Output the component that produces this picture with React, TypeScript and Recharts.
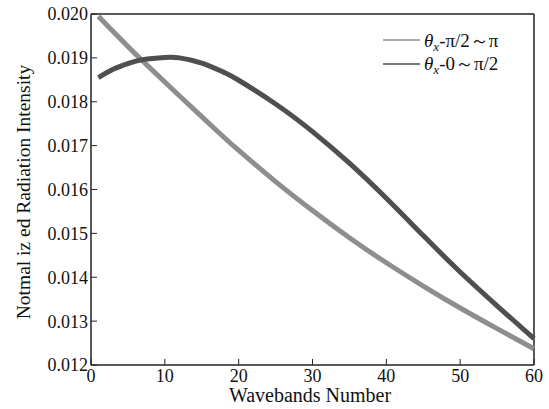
import { CartesianGrid, Line, LineChart, XAxis, YAxis } from 'recharts';

// Waveband numbers where the curves were sampled
const wavebands = [1, 3, 5, 7, 10, 12, 15, 18, 20, 25, 30, 35, 40, 45, 50, 55, 60];

// θx in π/2 ~ π (light grey curve)
const upperHalf = [
  0.01995, 0.0196, 0.01926, 0.01893, 0.01845, 0.01813, 0.01766, 0.01719, 0.01689, 0.01618, 0.01552, 0.0149,
  0.01433, 0.0138, 0.0133, 0.01283, 0.01237,
];

// θx in 0 ~ π/2 (dark grey curve)
const lowerHalf = [
  0.01855, 0.01874, 0.01887, 0.01896, 0.01901, 0.019, 0.01888, 0.01867, 0.01849, 0.01795, 0.01732, 0.0166,
  0.0158, 0.01495, 0.01412, 0.01335, 0.0126,
];

const xTicks = [0, 10, 20, 30, 40, 50, 60];
const yTicks = [0.012, 0.013, 0.014, 0.015, 0.016, 0.017, 0.018, 0.019, 0.02];

const LIGHT = '#8e8e8e';
const DARK = '#4f4f4f';
const AXIS = '#222';
const FONT = '"Liberation Serif", "DejaVu Serif", serif';

const data = wavebands.map((x, i) => ({ x, upper: upperHalf[i], lower: lowerHalf[i] }));

const tickStyle = { fontSize: 18, fill: '#111', fontFamily: FONT };

const LegendLabel = ({ y, rest }: { y: number; rest: string }) => (
  <text x={424} y={y} fontFamily={FONT} fontSize={19} fill="#111">
    <tspan fontStyle="italic">θ</tspan>
    <tspan fontStyle="italic" fontSize={13} dy={4}>x</tspan>
    <tspan dy={-4}>{rest}</tspan>
  </text>
);

export default function App() {
  return (
    <div style={{ position: 'absolute', left: 0, top: 0, width: 549, height: 409, background: '#fff' }}>
      <LineChart width={549} height={409} data={data} margin={{ top: 14, right: 15, bottom: 14, left: 31 }}>
        {/* top and right edges of the box frame */}
        <CartesianGrid stroke={AXIS} strokeWidth={1.5} horizontalValues={[0.02]} verticalValues={[60]} />
        <XAxis
          dataKey="x"
          type="number"
          domain={[0, 60]}
          ticks={xTicks}
          height={30}
          tickSize={-6}
          tickMargin={10}
          tick={tickStyle}
          axisLine={{ stroke: AXIS, strokeWidth: 1.5 }}
          tickLine={{ stroke: AXIS }}
        />
        <YAxis
          type="number"
          domain={[0.012, 0.02]}
          ticks={yTicks}
          width={60}
          tickSize={-6}
          tickMargin={9}
          tick={tickStyle}
          tickFormatter={(v: number) => v.toFixed(3)}
          axisLine={{ stroke: AXIS, strokeWidth: 1.5 }}
          tickLine={{ stroke: AXIS }}
        />
        <Line
          dataKey="upper"
          type="natural"
          stroke={LIGHT}
          strokeWidth={5}
          dot={false}
          isAnimationActive={false}
        />
        <Line
          dataKey="lower"
          type="natural"
          stroke={DARK}
          strokeWidth={5}
          dot={false}
          isAnimationActive={false}
        />
      </LineChart>

      {/* axis titles and legend drawn on top */}
      <svg width={549} height={409} style={{ position: 'absolute', left: 0, top: 0, pointerEvents: 'none' }}>
        <text
          x={0}
          y={0}
          transform="translate(30 192) rotate(-90)"
          textAnchor="middle"
          fontFamily={FONT}
          fontSize={19.5}
          fill="#111"
        >
          Notmal iz ed Radiation Intensity
        </text>
        <text x={310} y={402} textAnchor="middle" fontFamily={FONT} fontSize={20} fill="#111">
          Wavebands Number
        </text>
        <line x1={383} x2={420} y1={40} y2={40} stroke={LIGHT} strokeWidth={1.5} />
        <LegendLabel y={47} rest="-π/2～π" />
        <line x1={383} x2={420} y1={64} y2={64} stroke={DARK} strokeWidth={1.5} />
        <LegendLabel y={70} rest="-0～π/2" />
      </svg>
    </div>
  );
}
